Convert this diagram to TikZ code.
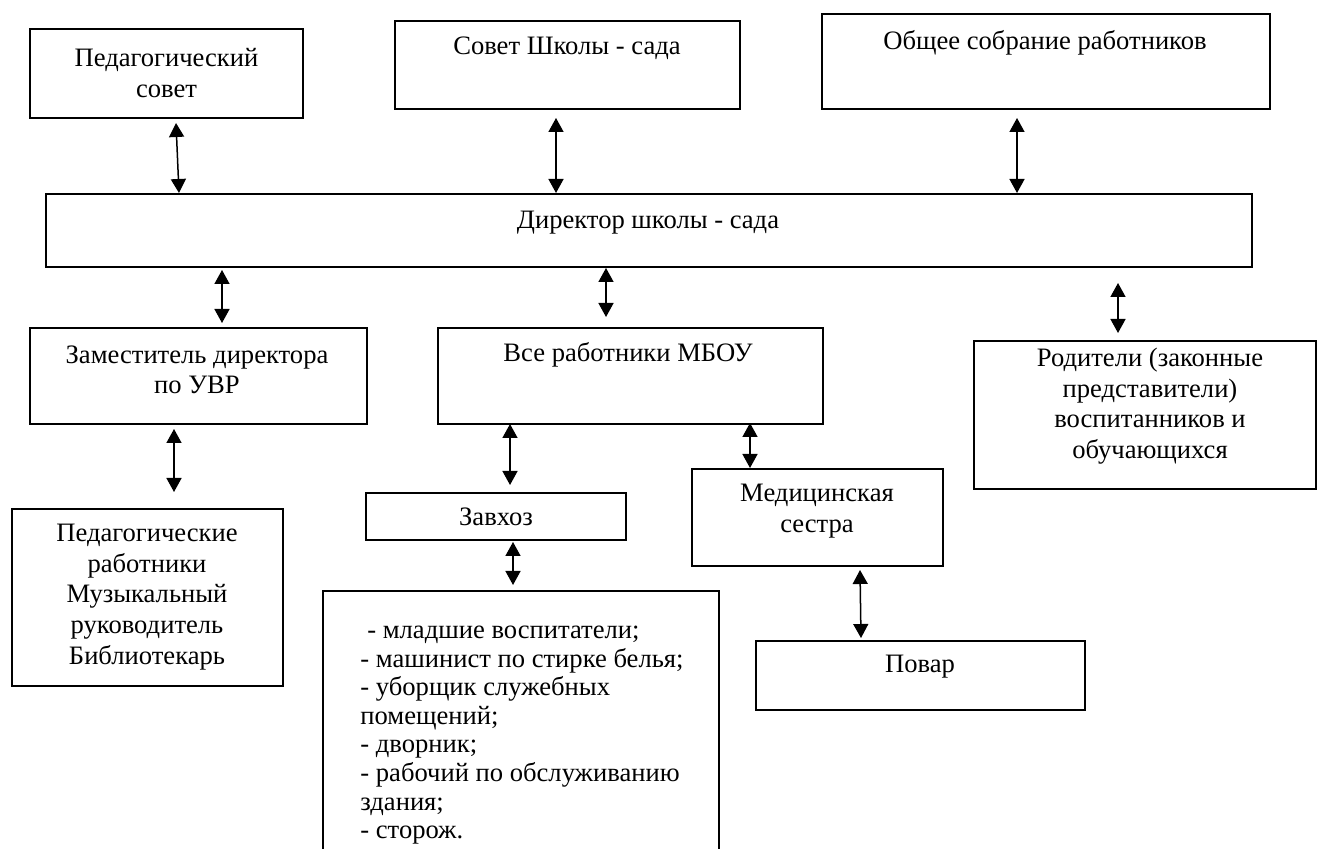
\documentclass[tikz,border=0pt]{standalone}
\usepackage{fontspec}
\setmainfont{Liberation Serif}
\usetikzlibrary{arrows.meta,calc}
\begin{document}
\begin{tikzpicture}[x=0.5pt,y=-0.5pt,
  box/.style 2 args={draw, line width=0.75pt, anchor=north west, inner sep=0pt, outer sep=0pt,
    minimum width=#1*0.5pt, minimum height=#2*0.5pt},
  txt/.style={font=\fontsize{13.3}{15.3}\selectfont, align=center, inner sep=0pt},
  lsttxt/.style={font=\fontsize{13.3}{14.3}\selectfont, align=left, inner sep=0pt, anchor=north west},
  arr/.style={{Triangle[width=7.5pt,length=7pt]}-{Triangle[width=7.5pt,length=7pt]}, line width=0.75pt}]
\clip (0,0) rectangle (1317,849);
\useasboundingbox (0,0) rectangle (1317,849);
% boxes
\node[box={273}{89}] (ped) at (30,29) {};
\node[box={345}{88}] (sov) at (395,21) {};
\node[box={448}{95}] (obs) at (822,14) {};
\node[box={1206}{73}] (dir) at (46,194) {};
\node[box={337}{96}] (zam) at (30,328) {};
\node[box={385}{96}] (vse) at (438,328) {};
\node[box={342}{148}] (rod) at (974,341) {};
\node[box={271}{177}] (pedw) at (12,509) {};
\node[box={260}{47}] (zav) at (366,493) {};
\node[box={251}{97}] (med) at (692,469) {};
\node[box={329}{69}] (pov) at (756,641) {};
\node[box={396}{320}] (lst) at (323,591) {};
% texts
\node[txt] (tped) at (166.5,73) {Педагогический\\совет};
\node[txt] (tsov) at (567,48) {Совет Школы - сада};
\node[txt] (tobs) at (1045,43) {Общее собрание работников};
\node[txt] (tdir) at (648,223) {Директор школы - сада};
\node[txt] (tzam) at (197,370) {Заместитель директора\\по УВР};
\node[txt] (tvse) at (628,355) {Все работники МБОУ};
\node[txt] (trod) at (1150,406) {Родители (законные\\представители)\\воспитанников и\\обучающихся};
\node[txt] (tpedw) at (147,597) {Педагогические\\работники\\Музыкальный\\руководитель\\Библиотекарь};
\node[txt] (tzav) at (496,517) {Завхоз};
\node[txt] (tmed) at (817,511) {Медицинская\\сестра};
\node[txt] (tpov) at (920,667) {Повар};
\node[lsttxt] (tlst) at (360,618) {\strut\hspace{3.5pt}- младшие воспитатели;\\- машинист по стирке белья;\\- уборщик служебных\\помещений;\\- дворник;\\- рабочий по обслуживанию\\здания;\\- сторож.};
% connectors
\draw[arr] ($(ped.south west)+(146,5)$) -- ($(dir.north west)+(133,-1)$);
\draw[arr] ($(sov.south west)+(161,9)$) -- ($(dir.north west)+(510,-1)$);
\draw[arr] ($(obs.south west)+(195,9)$) -- ($(dir.north west)+(971,-1)$);
\draw[arr] ($(dir.south west)+(176,3)$) -- ($(zam.north west)+(192,-5)$);
\draw[arr] ($(dir.south west)+(560,1)$) -- ($(vse.north west)+(168,-11)$);
\draw[arr] ($(dir.south west)+(1072,16)$) -- ($(rod.north west)+(144,-8)$);
\draw[arr] ($(zam.south west)+(144,5)$) -- ($(pedw.north west)+(162,-17)$);
\draw[arr] ($(vse.south west)+(72,0)$) -- ($(zav.north west)+(144,-8)$);
\draw[arr] ($(vse.south west)+(312,-1)$) -- ($(med.north west)+(58,-1)$);
\draw[arr] ($(zav.south west)+(147,2)$) -- ($(lst.north west)+(190,-6)$);
\draw[arr] ($(med.south west)+(168,4)$) -- ($(pov.north west)+(105,-3)$);
\end{tikzpicture}
\end{document}
